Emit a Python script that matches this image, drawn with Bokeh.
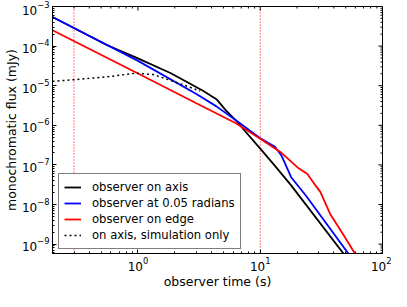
import math
from bokeh.plotting import figure
from bokeh.models import (Span, Legend, LegendItem, FixedTicker,
                          LogTickFormatter, Range1d)
from bokeh.embed import file_html
from bokeh.resources import INLINE

# ---- data ----
t_axis = [0.2, 0.551, 1.01, 1.86, 3.43, 4.38, 5.26, 6.32, 7.59, 10.0, 13.2, 17.9, 49.1]
f_axis = [5.45e-4, 1.08e-4, 4.84e-5, 2.07e-5, 7.33e-6, 4.57e-6, 2.36e-6, 1.34e-6,
          6.87e-7, 2.58e-7, 9.44e-8, 3.04e-8, 5.24e-10]

t_005 = [0.2, 1.01, 3.03, 4.38, 6.32, 10.0, 13.2, 14.9, 17.9, 23.6, 53.8]
f_005 = [5.45e-4, 4.18e-5, 6.07e-6, 3.01e-6, 1.34e-6, 4.73e-7, 2.89e-7, 1.73e-7,
         4.90e-8, 1.69e-8, 5.24e-10]

t_edge = [0.2, 1.01, 3.03, 6.32, 10.0, 14.9, 20.2, 24.3, 28.3, 31.0, 37.3, 47.6, 60.7]
f_edge = [2.51e-4, 2.0e-5, 3.56e-6, 1.13e-6, 4.55e-7, 2.02e-7, 8.63e-8, 5.90e-8,
          3.04e-8, 2.09e-8, 5.77e-9, 1.78e-9, 5.24e-10]

t_sim = [0.2, 0.295, 0.551, 0.955, 1.33, 1.85, 2.52, 3.21]
f_sim = [1.29e-5, 1.41e-5, 1.67e-5, 2.07e-5, 1.92e-5, 1.36e-5, 9.72e-6, 7.33e-6]

vlines = [0.3, 10.0]

x_lo, x_hi = 0.2, 100
y_lo, y_hi = 5.8e-10, 1e-3

x_major = [1, 10, 100]
x_minor = [0.2, 0.3, 0.4, 0.5, 0.6, 0.7, 0.8, 0.9,
           2, 3, 4, 5, 6, 7, 8, 9,
           20, 30, 40, 50, 60, 70, 80, 90]
y_major = [1e-9, 1e-8, 1e-7, 1e-6, 1e-5, 1e-4, 1e-3]
y_minor = []
for e in range(-10, -3):
    for m in range(2, 10):
        y_minor.append(m * 10.0 ** e)

labels = ["observer on axis", "observer at 0.05 radians",
          "observer on edge", "on axis, simulation only"]

FONT = "DejaVu Sans"

p = figure(width=391, height=291, x_axis_type="log", y_axis_type="log",
           x_range=Range1d(x_lo, x_hi), y_range=Range1d(y_lo, y_hi),
           output_backend="svg", toolbar_location=None,
           min_border_left=45, min_border_right=9, min_border_top=6,
           min_border_bottom=33)
p.grid.visible = False
p.outline_line_color = "black"
p.outline_line_width = 1

for ax, maj, mnr in [(p.xaxis[0], x_major, x_minor), (p.yaxis[0], y_major, y_minor)]:
    ax.ticker = FixedTicker(ticks=maj, minor_ticks=mnr)
    ax.formatter = LogTickFormatter()
    ax.major_tick_in = 4
    ax.major_tick_out = 0
    ax.minor_tick_in = 2
    ax.minor_tick_out = 0
    ax.axis_line_color = "black"
    ax.major_label_text_font = FONT
    ax.major_label_text_font_size = "12px"
    ax.major_label_text_color = "black"
    ax.axis_label_text_font = FONT
    ax.axis_label_text_font_size = "12.5px"
    ax.axis_label_text_font_style = "normal"
    ax.axis_label_text_color = "black"

p.xaxis.axis_label = "observer time (s)"
p.yaxis.axis_label = "monochromatic flux (mJy)"
p.xaxis.major_label_standoff = 3
p.xaxis.axis_label_standoff = 0
p.yaxis.major_label_standoff = 3
p.yaxis.axis_label_standoff = 0

# mirrored inward ticks on the top and right edges (clipped to the frame)
p.scatter(x_major, [y_hi] * len(x_major), marker="dash", angle=math.pi / 2,
          size=8, line_color="black", line_width=1)
p.scatter(x_minor, [y_hi] * len(x_minor), marker="dash", angle=math.pi / 2,
          size=4, line_color="black", line_width=1)
p.scatter([x_hi] * len(y_major), y_major, marker="dash",
          size=8, line_color="black", line_width=1)
p.scatter([x_hi] * len(y_minor), y_minor, marker="dash",
          size=4, line_color="black", line_width=1)

for v in vlines:
    p.add_layout(Span(location=v, dimension="height", line_color="red",
                      line_dash="1 2", line_width=1, level="underlay"))

r1 = p.line(t_axis, f_axis, line_color="black", line_width=1.8)
r2 = p.line(t_005, f_005, line_color="blue", line_width=1.8)
r3 = p.line(t_edge, f_edge, line_color="red", line_width=1.8)
r4 = p.line(t_sim, f_sim, line_color="black", line_width=1.5, line_dash="2 3")

legend = Legend(items=[LegendItem(label=labels[0], renderers=[r1]),
                       LegendItem(label=labels[1], renderers=[r2]),
                       LegendItem(label=labels[2], renderers=[r3]),
                       LegendItem(label=labels[3], renderers=[r4])],
                location=(6, 4))
legend.label_text_font = FONT
legend.label_text_font_size = "11.6px"
legend.label_text_color = "black"
legend.glyph_width = 17
legend.glyph_height = 16
legend.label_height = 16
legend.spacing = 0
legend.padding = 5
legend.margin = 0
legend.label_standoff = 11
legend.border_line_color = "black"
legend.border_line_width = 1
legend.background_fill_alpha = 1
p.add_layout(legend)

open("out.html", "w").write(file_html(p, INLINE))
